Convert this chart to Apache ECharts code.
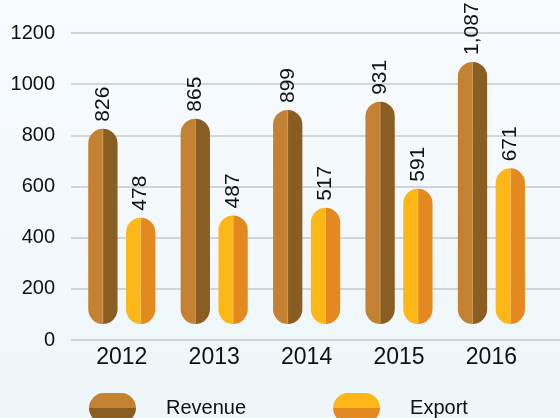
<!DOCTYPE html>
<html>
<head>
<meta charset="utf-8">
<title>Revenue / Export</title>
<script src="https://cdn.jsdelivr.net/npm/echarts@6/dist/echarts.min.js"></script>
<style>
    html, body { margin: 0; padding: 0; }
    #chartDiv { width: 560px; height: 418px; }
</style>
</head>
<body>
<div id="chartDiv"></div>
<script>
// data
var years = ['2012', '2013', '2014', '2015', '2016'];
var revenue = [826, 865, 899, 931, 1087];
var exportVals = [478, 487, 517, 591, 671];
var yMin = 0, yMax = 1200, yStep = 200;
var seriesNames = ['Revenue', 'Export'];

var fontName = 'Helvetica, Arial, "Liberation Sans", sans-serif';
// left half / right half / middle line
var revColors = ['#c58132', '#8a5d22', '#d9a366'];
var expColors = ['#fcb716', '#e38920', '#fcd06a'];

function splitV(c) {
    return new echarts.graphic.LinearGradient(0, 0, 0, 1, [
        { offset: 0, color: c[0] }, { offset: 0.5, color: c[0] },
        { offset: 0.5, color: c[1] }, { offset: 1, color: c[1] }
    ]);
}

// pill shaped bar, two colour halves, value label on top (rotated)
function pillRender(side, colors) {
    return function (params, api) {
        var idx = api.value(0), val = api.value(1);
        var top = api.coord([idx, val]);
        var base = api.coord([idx, 0]);
        var band = api.size([1, 0])[0];
        var w = band * 0.317;
        var gap = band * 0.092;
        var cx = top[0] + side * (w / 2 + gap / 2);
        var bottom = base[1] - 16;
        var h = bottom - top[1];
        var r = w / 2;
        return {
            type: 'group',
            children: [
                { type: 'rect', shape: { x: cx - w / 2, y: top[1], width: w / 2, height: h, r: [r, 0, 0, r] }, style: { fill: colors[0] } },
                { type: 'rect', shape: { x: cx, y: top[1], width: w / 2, height: h, r: [0, r, r, 0] }, style: { fill: colors[1] } },
                { type: 'line', shape: { x1: cx, y1: top[1] + 1, x2: cx, y2: bottom - 1 }, style: { stroke: colors[2], lineWidth: 1, opacity: 0.6 } },
                {
                    type: 'text', x: cx, y: top[1] - 7, rotation: Math.PI / 2,
                    style: {
                        text: echarts.format.addCommas(val), fill: '#111',
                        fontSize: 21, fontFamily: fontName, align: 'left', verticalAlign: 'middle'
                    }
                }
            ]
        };
    };
}

var pillIcon = 'path://M15,0 L32,0 A15,15 0 0 1 32,30 L15,30 A15,15 0 0 1 15,0 Z';

var option = {
    backgroundColor: new echarts.graphic.LinearGradient(0, 0, 0, 1, [
        { offset: 0, color: '#f8fbfe' }, { offset: 1, color: '#eef6fa' }
    ]),
    animation: false,
    grid: [
        { left: 71, right: 0, top: 33, bottom: 78 },
        { left: 75.6, right: 22.4, top: 33, bottom: 78 }
    ],
    legend: {
        left: 84,
        top: 388,
        itemWidth: 47,
        itemHeight: 30,
        itemGap: 87,
        textStyle: { fontFamily: fontName, fontSize: 20, color: '#111', padding: [0, 0, 0, 25] },
        data: [
            { name: seriesNames[0], icon: pillIcon, itemStyle: { color: splitV(revColors) } },
            { name: seriesNames[1], icon: pillIcon, itemStyle: { color: splitV(expColors) } }
        ]
    },
    xAxis: [
        { gridIndex: 0, type: 'value', show: false, min: 0, max: 1 },
        {
            gridIndex: 1,
            type: 'category',
            data: years,
            axisLine: { show: false },
            axisTick: { show: false },
            axisLabel: { fontFamily: fontName, fontSize: 23, color: '#111', margin: 6 }
        }
    ],
    yAxis: [
        {
            gridIndex: 0,
            type: 'value',
            min: yMin, max: yMax, interval: yStep,
            axisLine: { show: false },
            axisTick: { show: false },
            axisLabel: {
                fontFamily: fontName, fontSize: 20, color: '#111', margin: 16,
                formatter: function (v) { return String(v); }
            },
            splitLine: { lineStyle: { color: '#c6c8cc', width: 1.5 } }
        },
        { gridIndex: 1, type: 'value', min: yMin, max: yMax, interval: yStep, show: false }
    ],
    series: [
        {
            name: seriesNames[0],
            type: 'custom',
            xAxisIndex: 1, yAxisIndex: 1,
            itemStyle: { color: revColors[0] },
            renderItem: pillRender(-1, revColors),
            data: revenue.map(function (v, i) { return [i, v]; })
        },
        {
            name: seriesNames[1],
            type: 'custom',
            xAxisIndex: 1, yAxisIndex: 1,
            itemStyle: { color: expColors[0] },
            renderItem: pillRender(1, expColors),
            data: exportVals.map(function (v, i) { return [i, v]; })
        }
    ]
};

var myChart = echarts.init(document.getElementById('chartDiv'));
myChart.setOption(option);
</script>
</body>
</html>
